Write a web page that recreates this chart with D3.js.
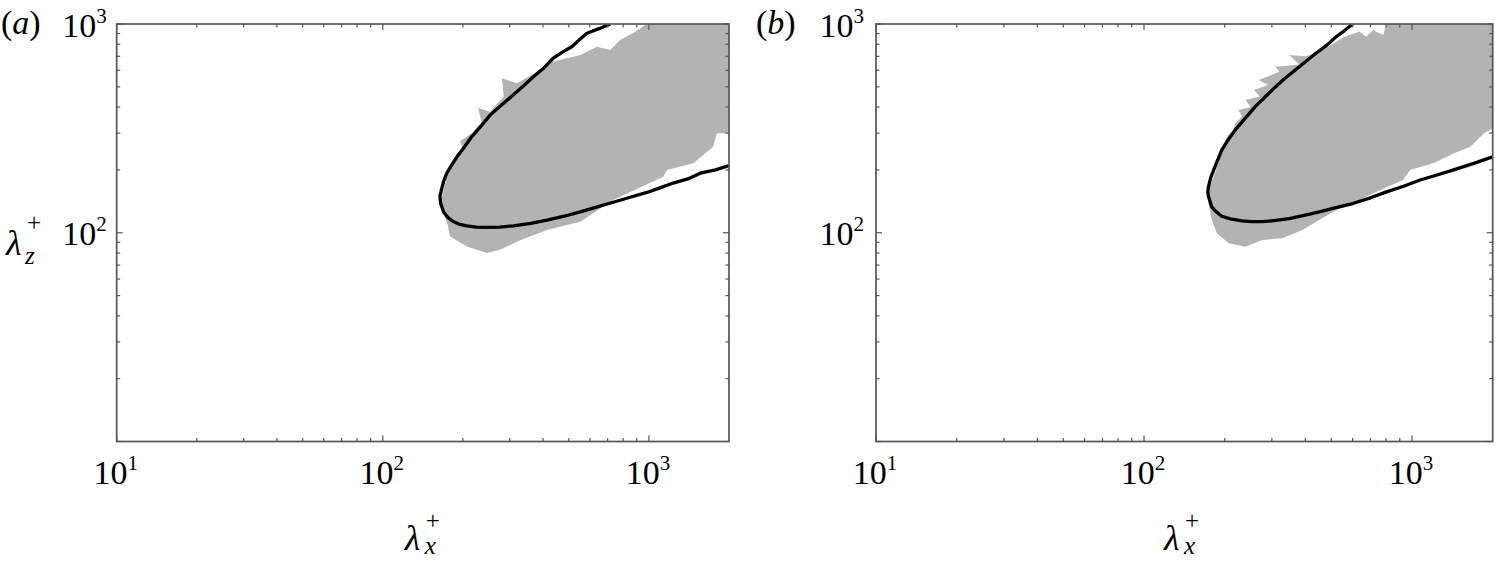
<!DOCTYPE html>
<html>
<head>
<meta charset="utf-8">
<script src="https://cdn.jsdelivr.net/npm/d3@7"></script>
<style>
  html, body { margin: 0; padding: 0; background: #fff; }
  svg { display: block; }
  text { font-family: "Liberation Serif", "Times New Roman", Tinos, serif; fill: #000; }
</style>
</head>
<body>
<svg id="chart" width="1495" height="561"></svg>
<script>
// ---------------- data ----------------
const panelLabels = ["a", "b"];
const xDomain = [10, 2000];
const yDomain = [10, 1000];
const majorTicks = [10, 100, 1000];
const majorTickExps = ["1", "2", "3"];
const minorTicks = [20, 30, 40, 50, 60, 70, 80, 90, 200, 300, 400, 500, 600, 700, 800, 900];

// panel (a): black contour line (lambda_x+, lambda_z+)
const aLineX = [715, 650, 585, 545, 513, 475, 437, 400, 367, 335, 309, 280, 253, 233, 216, 202, 190, 181, 174, 169, 166, 164, 165, 169, 175, 182, 193, 207, 225, 246, 275, 309, 360, 414, 480, 552, 640, 734, 850, 983, 1100, 1234, 1400, 1560, 1780, 2000];
const aLineZ = [1000, 950, 903, 835, 778, 735, 687, 610, 557, 500, 457, 410, 366, 322, 289, 256, 231, 210, 193, 175, 160, 150, 138, 126, 119, 114, 110, 108, 106.5, 106, 106.5, 108, 111, 115, 120, 126, 133, 140, 148, 156, 164, 173, 181, 193, 200, 210];
// panel (a): grey filled region boundary
const aFillX = [2000, 980, 873, 780, 715, 637, 552, 492, 426, 367, 319, 280, 285, 253, 228, 235, 216, 195, 200, 190, 178, 170, 166, 168, 175, 179, 207, 246, 276, 328, 414, 492, 552, 734, 1132, 1169, 1468, 1744, 1801, 2000];
const aFillZ = [1000, 1000, 905, 838, 751, 778, 710, 685, 658, 575, 520, 549, 450, 380, 396, 340, 300, 274, 255, 240, 200, 165, 143, 126, 110, 96, 86, 80, 83, 92, 103, 109, 113, 143.5, 185.6, 200, 215, 258, 300, 300];

// panel (b): black contour line
const bLineX = [601, 560, 521, 480, 438, 400, 367, 335, 310, 283, 260, 238, 219, 205, 195, 188, 182, 177, 174, 173, 174, 179, 186, 195, 210, 232, 252, 276, 310, 348, 395, 451, 520, 601, 700, 803, 930, 1072, 1240, 1430, 1700, 2000];
const bLineZ = [1000, 930, 869, 790, 724, 660, 602, 548, 501, 447, 402, 352, 311, 276, 249, 222, 200, 182, 166, 157, 149, 133, 126, 120, 116.5, 114, 113, 113, 114.5, 117, 121, 126, 132, 138, 147, 157, 167, 179, 189, 200, 215, 231];
// panel (b): grey filled region boundary
const bFillX = [2000, 803, 780, 715, 675, 637, 610, 560, 470, 438, 400, 348, 380, 310, 301, 320, 268, 290, 257, 270, 239, 250, 225, 232, 219, 215, 204, 198, 192, 184, 176, 173, 179, 187, 207, 239, 276, 328, 390, 451, 521, 601, 758, 927, 983, 1203, 1430, 1652, 1854, 2000];
const bFillZ = [1000, 1000, 886, 936, 869, 919, 903, 869, 760, 724, 700, 710, 640, 624, 648, 590, 539, 510, 483, 450, 432, 400, 387, 360, 334, 310, 289, 260, 231, 193, 166, 143.5, 115, 99.4, 89, 85.7, 92.3, 94, 103, 115, 128.5, 138, 160, 179, 200, 215, 240, 258, 300, 316];

// ---------------- drawing ----------------
const svg = d3.select("#chart");
const panels = [
  { label: "a", left: 116.7, right: 729, lx: aLineX, lz: aLineZ, fx: aFillX, fz: aFillZ, yTitle: true, labelX: 1, yLabGap: 10 },
  { label: "b", left: 876, right: 1492.7, lx: bLineX, lz: bLineZ, fx: bFillX, fz: bFillZ, yTitle: false, labelX: 756, yLabGap: 12 }
];
const plotTop = 24, plotBottom = 441.5;
const frameColor = "#555";
const FS = 34, FSUP = 21;

panels.forEach((p, i) => {
  const x = d3.scaleLog().domain(xDomain).range([p.left, p.right]);
  const y = d3.scaleLog().domain(yDomain).range([plotBottom, plotTop]);
  const g = svg.append("g");

  const clipId = "clip" + i;
  svg.append("clipPath").attr("id", clipId)
    .append("rect").attr("x", p.left).attr("y", plotTop)
    .attr("width", p.right - p.left).attr("height", plotBottom - plotTop);

  const plot = g.append("g").attr("clip-path", `url(#${clipId})`);

  // grey region
  const fillPts = p.fx.map((v, k) => [v, p.fz[k]]);
  plot.append("path")
    .attr("d", d3.line().x(d => x(d[0])).y(d => y(d[1])).curve(d3.curveLinearClosed)(fillPts))
    .attr("fill", "#b3b3b3").attr("stroke", "none");

  // black contour
  const linePts = p.lx.map((v, k) => [v, p.lz[k]]);
  plot.append("path")
    .attr("d", d3.line().x(d => x(d[0])).y(d => y(d[1])).curve(d3.curveLinear)(linePts))
    .attr("fill", "none").attr("stroke", "#000").attr("stroke-width", 3.3)
    .attr("stroke-linejoin", "round");

  // ticks (inward on all four sides)
  const tk = g.append("g").attr("stroke", frameColor).attr("stroke-width", 1.2);
  const allTicks = majorTicks.map(v => [v, 6]).concat(minorTicks.map(v => [v, 3.5]));
  allTicks.forEach(([v, len]) => {
    const xx = x(v);
    tk.append("line").attr("x1", xx).attr("x2", xx).attr("y1", plotBottom).attr("y2", plotBottom - len);
    tk.append("line").attr("x1", xx).attr("x2", xx).attr("y1", plotTop).attr("y2", plotTop + len);
  });
  allTicks.forEach(([v, len]) => {
    const yy = y(v);
    tk.append("line").attr("y1", yy).attr("y2", yy).attr("x1", p.left).attr("x2", p.left + len);
    tk.append("line").attr("y1", yy).attr("y2", yy).attr("x1", p.right).attr("x2", p.right - len);
  });

  // frame
  g.append("rect").attr("x", p.left).attr("y", plotTop)
    .attr("width", p.right - p.left).attr("height", plotBottom - plotTop)
    .attr("fill", "none").attr("stroke", frameColor).attr("stroke-width", 1.7);

  // x tick labels
  majorTicks.forEach((v, k) => {
    const t = g.append("text").attr("x", x(v) - 1).attr("y", 484)
      .attr("text-anchor", "middle").attr("font-size", FS);
    t.append("tspan").text("10");
    t.append("tspan").attr("dy", -14).attr("font-size", FSUP).text(majorTickExps[k]);
  });
  // y tick labels (10^2, 10^3)
  majorTicks.slice(1).forEach((v, k) => {
    const t = g.append("text").attr("x", p.left - p.yLabGap).attr("y", y(v) + 12.5)
      .attr("text-anchor", "end").attr("font-size", FS);
    t.append("tspan").text("10");
    t.append("tspan").attr("dy", -14).attr("font-size", FSUP).text(majorTickExps[k + 1]);
  });

  // panel label
  const pl = g.append("text").attr("x", p.labelX).attr("y", 34).attr("font-size", FS);
  pl.append("tspan").text("(");
  pl.append("tspan").attr("font-style", "italic").text(p.label);
  pl.append("tspan").text(")");

  // x axis title  λ_x^+
  const lx0 = p.left + 288, lb = 550;
  g.append("text").attr("x", lx0).attr("y", lb).attr("font-size", 36).attr("font-style", "italic").text("λ");
  g.append("text").attr("x", lx0 + 21).attr("y", lb - 21).attr("font-size", 25).text("+");
  g.append("text").attr("x", lx0 + 20).attr("y", lb + 4).attr("font-size", 25).attr("font-style", "italic").text("x");

  // y axis title  λ_z^+
  if (p.yTitle) {
    const zx0 = 6, zb = 255;
    g.append("text").attr("x", zx0).attr("y", zb).attr("font-size", 36).attr("font-style", "italic").text("λ");
    g.append("text").attr("x", zx0 + 21).attr("y", zb - 24).attr("font-size", 25).text("+");
    g.append("text").attr("x", zx0 + 19).attr("y", zb + 9).attr("font-size", 25).attr("font-style", "italic").text("z");
  }
});
</script>
</body>
</html>
